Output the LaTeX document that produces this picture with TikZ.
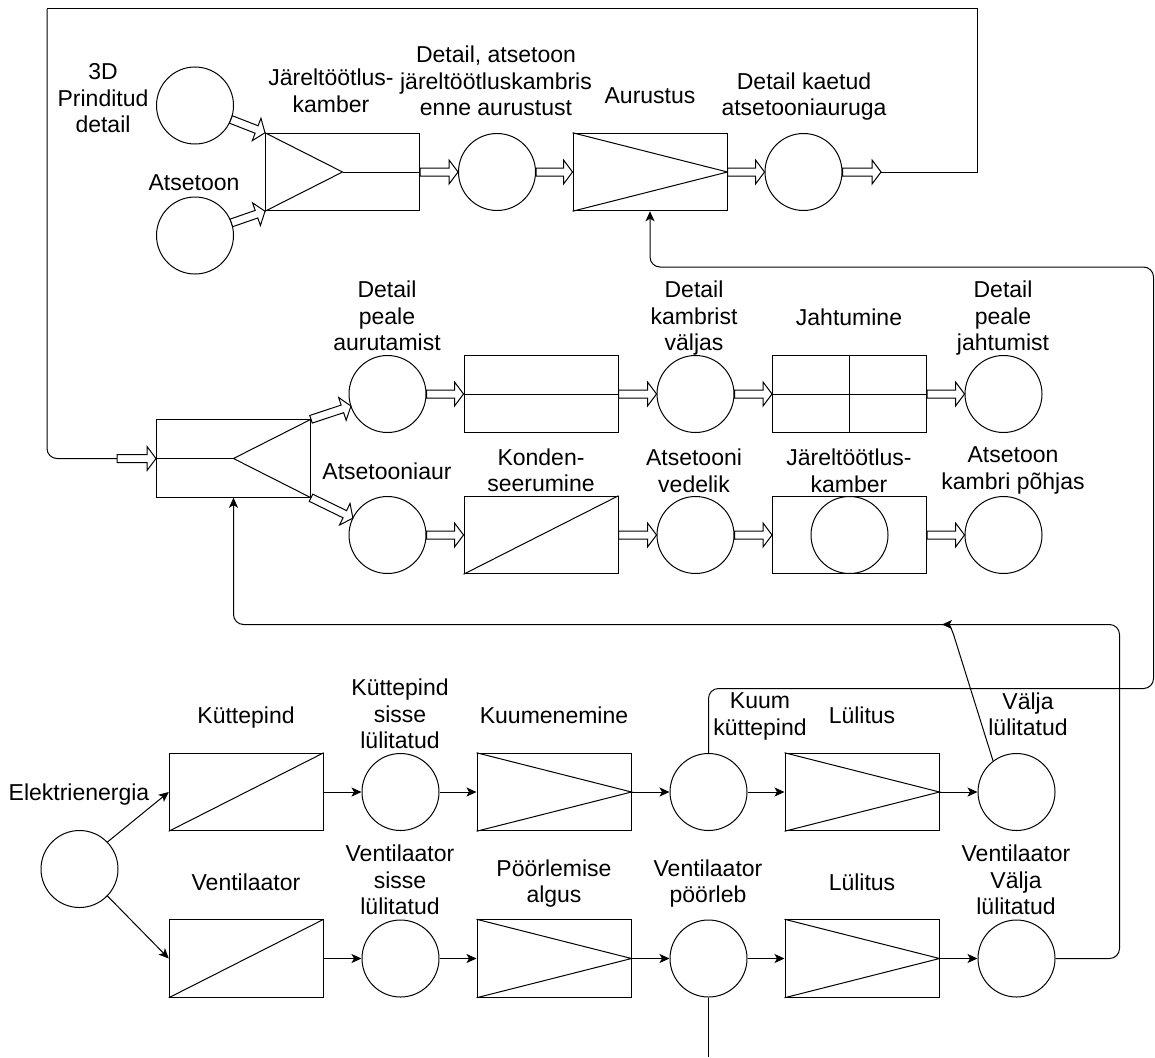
\documentclass[tikz,border=0pt]{standalone}
\usepackage{fontspec}
\setmainfont{Liberation Sans}
\usetikzlibrary{calc,arrows.meta}
\newcommand\lblfont{\fontsize{23}{26.5}\selectfont}
% hollow (flex) arrow from #1 to #2
\newcommand\flexarr[2]{%
  \coordinate (fxH) at ($(#2)!9pt!(#1)$);
  \draw[flexln] ($(#1)!4pt!90:(#2)$) -- ($(fxH)!4pt!90:(#2)$) -- ($(fxH)!12pt!90:(#2)$) -- (#2)
    -- ($(fxH)!12pt!-90:(#2)$) -- ($(fxH)!4pt!-90:(#2)$) -- ($(#1)!4pt!-90:(#2)$) -- cycle;}
\tikzset{
  ln/.style={line width=1pt, line join=miter},
  circ/.style={circle, draw, line width=1pt, minimum size=77pt, inner sep=0pt},
  boxn/.style={rectangle, draw, line width=1pt, minimum width=154pt, minimum height=77.5pt, inner sep=0pt},
  lbl/.style={font=\lblfont, align=center, inner sep=0pt, execute at begin node=\strut, execute at end node=\strut},
  flexln/.style={draw, fill=white, line width=1pt, line join=miter},
  thinarr/.style={line width=1pt, -{Stealth[length=10pt,width=9pt,inset=2.5pt]}},
  loopln/.style={line width=1pt, rounded corners=10pt},
}
\begin{document}
\begin{tikzpicture}[x=1pt,y=-1pt]
\useasboundingbox (0,0) rectangle (1155,1057);
% ---------------- top row ----------------
\node[circ] (c3d) at (195,105.5) {};
\node[circ] (cat) at (195,235.5) {};
\node[boxn] (b1) at (342.5,172) {};
\node[circ] (c2) at (497,172) {};
\node[boxn] (b2) at (650,172) {};
\node[circ] (c3) at (803.5,172) {};
\draw[ln] (b1.north west) -- (b1.center) -- (b1.south west);
\draw[ln] (b1.center) -- (b1.east);
\draw[ln] (b2.north west) -- (b2.east) -- (b2.south west);
\node[lbl] (l3d) at (103,102.3) {3D\\Prinditud\\detail};
\node[lbl] (lat) at (194,185) {Atsetoon};
\node[lbl] (lb1) at (331,94.5) {Järeltöötlus-\\kamber};
\node[lbl] (lc2) at (496,85) {Detail, atsetoon\\järeltöötluskambris\\enne aurustust};
\node[lbl] (lb2) at (650,98) {Aurustus};
\node[lbl] (lc3) at (804,98) {Detail kaetud\\atsetooniauruga};
\coordinate (s1) at ($(c3d.center)!38.5pt!(b1.north west)$);
\coordinate (s2) at ($(cat.center)!38.5pt!(b1.south west)$);
\flexarr{s1}{b1.north west}
\flexarr{s2}{b1.south west}
\flexarr{b1.east}{c2.west}
\flexarr{c2.east}{b2.west}
\flexarr{b2.east}{c3.west}
\coordinate (f6) at (881,172);
\flexarr{c3.east}{f6}
% ---------------- middle rows ----------------
\node[boxn] (sp) at (233.5,458.5) {};
\draw[ln] (sp.west) -- (sp.center);
\draw[ln] (sp.north east) -- (sp.center) -- (sp.south east);
\node[circ] (cA) at (387.5,394) {};
\node[circ] (cB) at (387.5,535) {};
\node[boxn] (bA) at (541,394) {};
\draw[ln] (bA.west) -- (bA.east);
\node[boxn] (bB) at (541,535) {};
\draw[ln] (bB.south west) -- (bB.north east);
\node[circ] (cC) at (695.5,394) {};
\node[circ] (cD) at (695.5,535) {};
\node[boxn] (bC) at (849.5,394) {};
\draw[ln] (bC.west) -- (bC.east);
\draw[ln] (bC.north) -- (bC.south);
\node[boxn] (bD) at (849.5,535) {};
\node[circ] (bDc) at (bD.center) {};
\node[circ] (cE) at (1003.5,394) {};
\node[circ] (cF) at (1003.5,535) {};
\node[lbl] (lcA) at (387,320) {Detail\\peale\\aurutamist};
\node[lbl] (lcB) at (387,474) {Atsetooniaur};
\node[lbl] (lbB) at (541,474) {Konden-\\seerumine};
\node[lbl] (lcC) at (694,320) {Detail\\kambrist\\väljas};
\node[lbl] (lbC) at (849,320) {Jahtumine};
\node[lbl] (lcE) at (1003,320) {Detail\\peale\\jahtumist};
\node[lbl] (lcD) at (694,474.5) {Atsetooni\\vedelik};
\node[lbl] (lbD) at (849,474.5) {Järeltöötlus-\\kamber};
\node[lbl] (lcF) at (1013,472) {Atsetoon\\kambri põhjas};
\coordinate (s3) at ($(cA.center)!38.5pt!(sp.north east)$);
\coordinate (s4) at ($(cB.center)!38.5pt!(sp.south east)$);
\flexarr{sp.north east}{s3}
\flexarr{sp.south east}{s4}
\flexarr{cA.east}{bA.west}
\flexarr{bA.east}{cC.west}
\flexarr{cC.east}{bC.west}
\flexarr{bC.east}{cE.west}
\flexarr{cB.east}{bB.west}
\flexarr{bB.east}{cD.west}
\flexarr{cD.east}{bD.west}
\flexarr{bD.east}{cF.west}
% loop 1 (top outer frame)
\coordinate (L1a) at (977,172);
\coordinate (L1b) at (977,9);
\coordinate (L1c) at (47,9);
\coordinate (L1d) at (47,458.5);
\coordinate (L1e) at (117,458.5);
\draw[ln] (f6) -- (L1a) -- (L1b) -- (L1c);
\draw[loopln] (L1c) -- (L1d) -- (L1e);
\flexarr{L1e}{sp.west}
% ---------------- bottom rows ----------------
\node[circ] (cEl) at (79.5,869) {};
\node[boxn] (bK) at (246.25,792) {};
\node[circ] (cK1) at (400.5,792) {};
\node[boxn] (bK2) at (554,792) {};
\node[circ] (cK2) at (708.5,792) {};
\node[boxn] (bK3) at (862,792) {};
\node[circ] (cK3) at (1016.5,792) {};
\node[boxn] (bV) at (246.25,958.5) {};
\node[circ] (cV1) at (400.5,958.5) {};
\node[boxn] (bV2) at (554,958.5) {};
\node[circ] (cV2) at (708.5,958.5) {};
\node[boxn] (bV3) at (862,958.5) {};
\node[circ] (cV3) at (1016.5,958.5) {};
\draw[ln] (bK.south west) -- (bK.north east);
\draw[ln] (bV.south west) -- (bV.north east);
\draw[ln] (bK2.north west) -- (bK2.east) -- (bK2.south west);
\draw[ln] (bK3.north west) -- (bK3.east) -- (bK3.south west);
\draw[ln] (bV2.north west) -- (bV2.east) -- (bV2.south west);
\draw[ln] (bV3.north west) -- (bV3.east) -- (bV3.south west);
\node[lbl] (lEl) at (79,795) {Elektrienergia};
\node[lbl] (lbK) at (246,718) {Küttepind};
\node[lbl] (lcK1) at (400,718) {Küttepind\\sisse\\lülitatud};
\node[lbl] (lbK2) at (554,718) {Kuumenemine};
\node[lbl] (lcK2) at (760,718) {Kuum\\küttepind};
\node[lbl] (lbK3) at (862,718) {Lülitus};
\node[lbl] (lcK3) at (1028,718) {Välja\\lülitatud};
\node[lbl] (lbV) at (246,885) {Ventilaator};
\node[lbl] (lcV1) at (400,884) {Ventilaator\\sisse\\lülitatud};
\node[lbl] (lbV2) at (554,885) {Pöörlemise\\algus};
\node[lbl] (lcV2) at (708,885) {Ventilaator\\pöörleb};
\node[lbl] (lbV3) at (862,885) {Lülitus};
\node[lbl] (lcV3) at (1016,884) {Ventilaator\\Välja\\lülitatud};
\draw[thinarr] (cEl.44) -- (bK.west);
\draw[thinarr] (cEl.-44) -- (bV.west);
\draw[thinarr] (bK.east) -- (cK1.west);
\draw[thinarr] (cK1.east) -- (bK2.west);
\draw[thinarr] (bK2.east) -- (cK2.west);
\draw[thinarr] (cK2.east) -- (bK3.west);
\draw[thinarr] (bK3.east) -- (cK3.west);
\draw[thinarr] (bV.east) -- (cV1.west);
\draw[thinarr] (cV1.east) -- (bV2.west);
\draw[thinarr] (bV2.east) -- (cV2.west);
\draw[thinarr] (cV2.east) -- (bV3.west);
\draw[thinarr] (bV3.east) -- (cV3.west);
% loop 2: Kuum küttepind -> Aurustus
\coordinate (L2a) at (708.5,688.5);
\coordinate (L2b) at (1153.5,688.5);
\coordinate (L2c) at (1153.5,267);
\coordinate (L2d) at (650,267);
\draw[loopln, thinarr] (cK2.north) -- (L2a) -- (L2b) -- (L2c) -- (L2d) -- (b2.south);
% loop 3: Ventilaator Välja lülitatud -> splitter
\coordinate (L3a) at (1119.5,958.5);
\coordinate (L3b) at (1119.5,624.5);
\coordinate (L3c) at (233.5,624.5);
\draw[loopln, thinarr] (cV3.east) -- (L3a) -- (L3b) -- (L3c) -- (sp.south);
% Välja lülitatud -> loop 3
\coordinate (j4a) at (954,636);
\coordinate (j4) at (942,624.5);
\draw[thinarr] (cK3.127) -- (j4a) .. controls (951,627) and (949,624.5) .. (j4);
% fan line going down
\coordinate (bot) at (708.5,1057);
\draw[ln] (cV2.south) -- (bot);
\end{tikzpicture}
\end{document}
